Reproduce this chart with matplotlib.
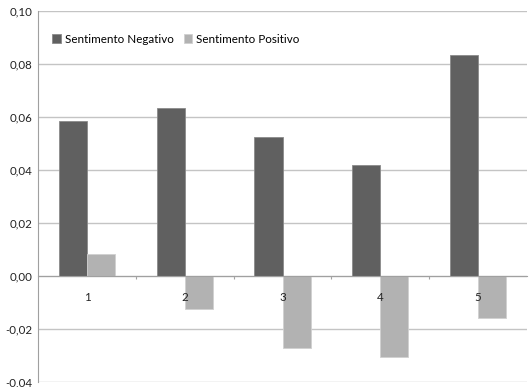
import matplotlib.pyplot as plt
import numpy as np
from matplotlib.ticker import FuncFormatter

plt.rcParams['font.family'] = ['Lato', 'DejaVu Sans']

categories = ['1', '2', '3', '4', '5']
sent_negativo = [0.0585, 0.0634, 0.0525, 0.0419, 0.0835]
sent_positivo = [0.0082, -0.0124, -0.0273, -0.0307, -0.0159]
y_ticks = [-0.04, -0.02, 0.00, 0.02, 0.04, 0.06, 0.08, 0.10]

fig = plt.figure(figsize=(5.31, 3.87), dpi=100)
ax = fig.add_axes([0.0716, 0.0137, 0.921, 0.958])

x = np.arange(len(categories))
w = 0.287
ax.bar(x - w / 2, sent_negativo, w, color='#606060', edgecolor='#8a8a8a',
       linewidth=0.6, label='Sentimento Negativo', zorder=3)
ax.bar(x + w / 2, sent_positivo, w, color='#b2b2b2', edgecolor='#d0d0d0',
       linewidth=0.6, label='Sentimento Positivo', zorder=3)

ax.set_xlim(-0.5, len(categories) - 0.5)
ax.set_ylim(-0.04, 0.10)
ax.set_yticks(y_ticks)
ax.yaxis.set_major_formatter(FuncFormatter(lambda v, p: f'{v:.2f}'.replace('.', ',')))
ax.tick_params(axis='y', length=0, pad=4, labelsize=8.3, labelcolor='#222222')
ax.grid(axis='y', color='#c4c4c4', linewidth=1.0, zorder=0)

# category axis sits on the zero line, ticks between groups
ax.spines['bottom'].set_position(('data', 0))
ax.spines['bottom'].set_color('#a0a0a0')
ax.spines['bottom'].set_zorder(4)
ax.set_xticks(x[:-1] + 0.5)
ax.set_xticklabels([])
ax.tick_params(axis='x', direction='out', length=2.5, color='#a0a0a0')
for i, lab in enumerate(categories):
    ax.annotate(lab, (x[i], 0), xytext=(0, -15.5), textcoords='offset points',
                ha='center', va='center', fontsize=8.3, color='#222222')

for s in ['top', 'right']:
    ax.spines[s].set_visible(False)
ax.spines['left'].set_color('#a0a0a0')

ax.legend(ncol=2, frameon=False, loc='center left', bbox_to_anchor=(0.02, 0.924),
          fontsize=8.4, handlelength=0.7, handleheight=0.7, handletextpad=0.35,
          columnspacing=0.9, borderaxespad=0)

fig.savefig('out.png', dpi=100)
